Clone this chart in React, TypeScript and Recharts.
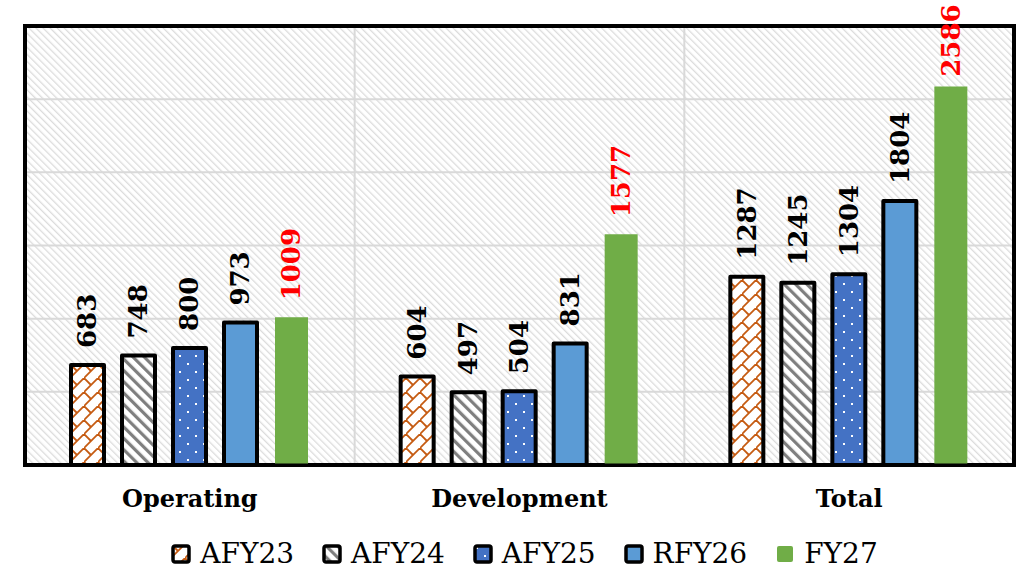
import React from 'react';
import { BarChart, Bar, XAxis, YAxis, CartesianGrid, Legend, LabelList, ReferenceArea } from 'recharts';

const categories = ['Operating', 'Development', 'Total'];
const afy23 = [683, 604, 1287];
const afy24 = [748, 497, 1245];
const afy25 = [800, 504, 1304];
const rfy26 = [973, 831, 1804];
const fy27 = [1009, 1577, 2586];
const yTicks = [0, 500, 1000, 1500, 2000, 2500, 3000];

const data = categories.map((c, i) => ({
  name: c,
  AFY23: afy23[i],
  AFY24: afy24[i],
  AFY25: afy25[i],
  RFY26: rfy26[i],
  FY27: fy27[i],
}));

const series = [
  { key: 'AFY23', fill: 'url(#p23)', stroke: '#000', label: '#000' },
  { key: 'AFY24', fill: 'url(#p24)', stroke: '#000', label: '#000' },
  { key: 'AFY25', fill: 'url(#p25)', stroke: '#000', label: '#000' },
  { key: 'RFY26', fill: '#5B9BD5', stroke: '#000', label: '#000' },
  { key: 'FY27', fill: '#70AD47', stroke: 'none', label: '#FF0000' },
];

const FONT = '"DejaVu Serif", Georgia, serif';
const LABEL_SIZE = 26;

const makeLabel = (color: string) => (props: any) => {
  const { x, y, width, value } = props;
  const cx = Number(x) + Number(width) / 2;
  const textLen = String(value).length * LABEL_SIZE * 0.7;
  const cy = Math.max(Number(y) - 17, textLen + 4);
  return (
    <text
      x={cx}
      y={cy}
      transform={`rotate(-90, ${cx}, ${cy})`}
      textAnchor="start"
      dominantBaseline="central"
      fontFamily={FONT}
      fontWeight="bold"
      fontSize={LABEL_SIZE}
      fill={color}
    >
      {value}
    </text>
  );
};

const LegendContent = () => (
  <div
    style={{
      height: 61,
      display: 'flex',
      alignItems: 'center',
      justifyContent: 'center',
      gap: 28,
      fontFamily: FONT,
      fontSize: 28,
      color: '#000',
      paddingTop: 16,
      paddingLeft: 10,
      boxSizing: 'border-box',
    }}
  >
    {series.map((s) => (
      <div key={s.key} style={{ display: 'flex', alignItems: 'center', gap: 9 }}>
        <svg width={20} height={20}>
          <rect
            x={2}
            y={2}
            width={16}
            height={16}
            rx={2}
            fill={s.fill}
            stroke={s.stroke}
            strokeWidth={s.stroke === 'none' ? 0 : 3.5}
          />
        </svg>
        <span>{s.key}</span>
      </div>
    ))}
  </div>
);

export default function App() {
  return (
    <div style={{ position: 'absolute', left: 0, top: 0, width: 1018, height: 576, background: '#fff' }}>
      <BarChart
        width={1018}
        height={576}
        data={data}
        margin={{ top: 26, right: 4, left: 25, bottom: 0 }}
        barSize={33}
        barGap={18}
      >
        <defs>
          <pattern id="bg" width={5} height={5} patternUnits="userSpaceOnUse" patternTransform="rotate(-45)">
            <rect x={0} y={0} width={5} height={5} fill="#fff" />
            <rect x={0} y={0} width={1.3} height={5} fill="#dcdcdc" />
          </pattern>
          <pattern id="p23" width={14} height={14} patternUnits="userSpaceOnUse">
            <rect x={0} y={0} width={14} height={14} fill="#fff" />
            <path d="M-1,15 L15,-1" stroke="#C55A11" strokeWidth={1.8} />
            <path d="M0,0 L7,7" stroke="#C55A11" strokeWidth={1.8} />
          </pattern>
          <pattern id="p24" width={8} height={8} patternUnits="userSpaceOnUse" patternTransform="rotate(-45)">
            <rect x={0} y={0} width={8} height={8} fill="#fff" />
            <rect x={0} y={0} width={3.2} height={8} fill="#7f7f7f" />
          </pattern>
          <pattern id="p25" width={16} height={16} patternUnits="userSpaceOnUse">
            <rect x={0} y={0} width={16} height={16} fill="#4472C4" />
            <rect x={3} y={3} width={2} height={2} fill="#fff" />
            <rect x={11} y={11} width={2} height={2} fill="#fff" />
          </pattern>
        </defs>
        <CartesianGrid
          fill="url(#bg)"
          stroke="#d9d9d9"
          strokeWidth={2}
          verticalCoordinatesGenerator={({ offset }: any) => [
            offset.left + offset.width / 3,
            offset.left + (2 * offset.width) / 3,
          ]}
        />
        <YAxis hide domain={[0, 3000]} ticks={yTicks} />
        <XAxis
          dataKey="name"
          height={50}
          tickLine={false}
          axisLine={{ stroke: '#000', strokeWidth: 3 }}
          tick={{ fontFamily: FONT, fontWeight: 'bold', fontSize: 24, fill: '#000' }}
          tickMargin={19}
        />
        {series.map((s) => (
          <Bar
            key={s.key}
            dataKey={s.key}
            fill={s.fill}
            stroke={s.stroke}
            strokeWidth={s.stroke === 'none' ? 0 : 4}
            strokeLinejoin="round"
            isAnimationActive={false}
          >
            <LabelList dataKey={s.key} content={makeLabel(s.label)} />
          </Bar>
        ))}
        <ReferenceArea
          y1={0}
          y2={3000}
          fill="none"
          stroke="#000"
          strokeWidth={4}
          ifOverflow="visible"
        />
        <Legend verticalAlign="bottom" content={<LegendContent />} />
      </BarChart>
    </div>
  );
}
